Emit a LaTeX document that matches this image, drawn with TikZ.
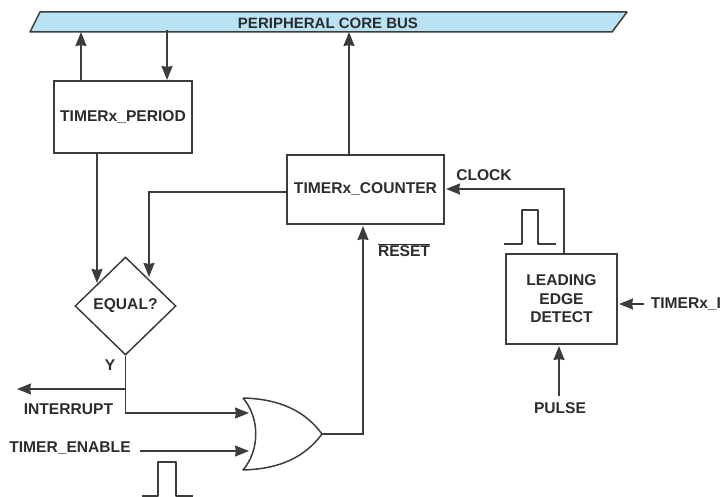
\documentclass[tikz,border=0pt]{standalone}
\usepackage{fontspec}
\setmainfont{Liberation Sans}
\usepackage{xcolor}
\usetikzlibrary{arrows.meta,positioning,shapes.geometric}
\definecolor{busblue}{HTML}{B9E3F5}
\definecolor{linegray}{HTML}{3C3C38}
\definecolor{textgray}{HTML}{2C2C2C}

\begin{document}
\begin{tikzpicture}[
  x=1pt, y=-1pt,
  line width=1.5pt,
  every node/.style={text=textgray, font=\fontsize{15.6pt}{18pt}\selectfont\bfseries},
  box/.style={draw=linegray, fill=white, align=center, inner sep=0pt},
  lbl/.style={inner sep=0pt, align=center},
  decide/.style={draw=linegray, diamond, aspect=1, inner sep=0pt, minimum width=101pt, minimum height=98pt},
  arrow/.style={-{Stealth[inset=1pt,length=14pt,width=11pt]}, draw=linegray},
  wire/.style={draw=linegray, line join=round}
]
\useasboundingbox (0,0) rectangle (722,497);

\draw[wire, fill=busblue] (40,12) -- (627,12) -- (612,32) -- (30,32) -- cycle;
\node[lbl, font=\fontsize{15pt}{18pt}\selectfont\bfseries] (bus) at (328,23) {PERIPHERAL CORE BUS};

\node[box, minimum width=138pt, minimum height=72pt] (period) at (123,117) {TIMERx\_PERIOD};
\node[box, minimum width=157pt, minimum height=69pt] (counter) at (365.5,189.5) {TIMERx\_COUNTER};
\node[box, minimum width=111pt, minimum height=90pt] (detect) at (561.5,299) {LEADING\\[1pt]EDGE\\DETECT};
\node[decide] (equal) at (125.5,306) {EQUAL?};

\node[lbl] (y) at (110,365) {Y};
\node[lbl] (interrupt) at (68.5,409) {INTERRUPT};
\node[lbl] (enable) at (70,448) {TIMER\_ENABLE};
\node[lbl] (clock) at (484,175) {CLOCK};
\node[lbl] (reset) at (404,250.5) {$\overline{\hbox{RESET}}$};
\node[lbl, anchor=west] (timeri) at (650,304) {TIMERx\_I};
\node[lbl] (pulsein) at (560,408) {PULSE};

% or gate
\draw[wire] (243,398) .. controls (280,399) and (305,411) .. (322,434)
  .. controls (305,457) and (280,469) .. (243,470)
  .. controls (260,450) and (260,418) .. (243,398);
\coordinate (gatea) at (249,413);
\coordinate (gateb) at (249,451);
\coordinate (gateout) at (322,434);

\coordinate (busa) at (81,32);
\coordinate (busb) at (167,30);
\coordinate (busc) at (349,32);
\coordinate (perioda) at (81,81);
\coordinate (periodb) at (167,80);
\coordinate (periodc) at (97,153);
\coordinate (countera) at (349,155);
\coordinate (counterb) at (287,192);
\coordinate (counterc) at (446,189);
\coordinate (counterd) at (363,226);
\coordinate (equala) at (97,283);
\coordinate (equalb) at (149,277);
\coordinate (turn) at (149,192);
\coordinate (detecta) at (564,254);
\coordinate (detectb) at (559,346);
\coordinate (detectc) at (619,304);
\coordinate (pulsetail) at (559,396);
\coordinate (timertail) at (644,304);
\coordinate (enabletail) at (140,451);
\coordinate (intjoin) at (126,389);
\coordinate (intend) at (17,389);

\draw[arrow] (perioda) -- (busa);
\draw[arrow] (busb) -- (periodb);
\draw[arrow] (countera) -- (busc);
\draw[arrow] (periodc) -- (equala);
\draw[arrow] (counterb) -- (turn) -- (equalb);
\draw[arrow] (detecta) |- (counterc);
\draw[arrow] (intjoin) -- (intend);
\draw[arrow] (equal.south) |- (gatea);
\draw[arrow] (enabletail) -- (gateb);
\draw[arrow] (gateout) -| (counterd);
\draw[arrow] (pulsetail) -- (detectb);
\draw[arrow] (timertail) -- (detectc);

% pulses
\draw[wire] (504,244) -- (522,244) -- (522,210) -- (538,210) -- (538,244) -- (556,244);
\draw[wire] (142,496) -- (158,496) -- (158,462) -- (176,462) -- (176,496) -- (193,496);

\end{tikzpicture}
\end{document}
